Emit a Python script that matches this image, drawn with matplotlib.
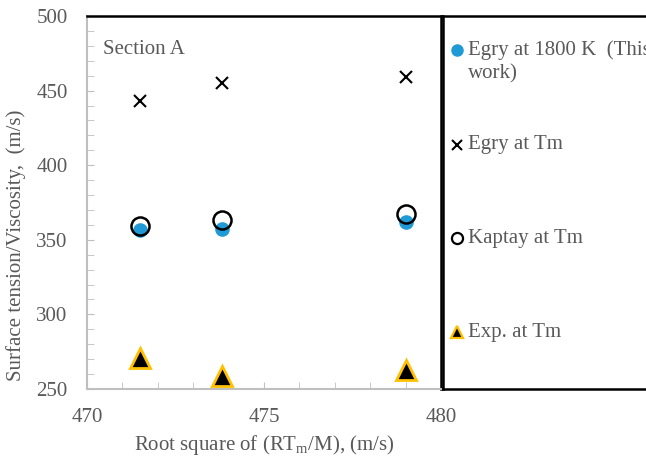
import matplotlib
matplotlib.use("Agg")
import matplotlib.pyplot as plt
from matplotlib.ticker import MultipleLocator

plt.rcParams['mathtext.fontset'] = 'custom'
plt.rcParams['mathtext.rm'] = 'Liberation Serif'
plt.rcParams['mathtext.it'] = 'Liberation Serif:italic'

x = [471.5, 473.8, 479.0]
egry_1800 = [356.5, 357.5, 362.0]
egry_tm = [443, 455, 459]
kaptay_tm = [359, 363, 367]
exp_tm = [271, 258.5, 263]

labels = ["Egry at 1800 K  (This", "Egry at Tm", "Kaptay at Tm", "Exp. at Tm"]
label_cont = "work)"

serif = ["Liberation Serif", "DejaVu Serif"]
gray_txt = "#595959"
spine_gray = "#bfbfbf"
blue = "#1f9ad6"
orange = "#ffc000"
FS = 15

W, H = 646, 459
fig = plt.figure(figsize=(W / 100, H / 100), dpi=100)

def rect(l, t, r, b):
    return [l / W, 1 - b / H, (r - l) / W, (b - t) / H]

ax = fig.add_axes(rect(87, 16, 441, 389))
ax.set_xlim(470, 480)
ax.set_ylim(250, 500)

ax.plot(x, egry_1800, 'o', color=blue, markersize=9.5, zorder=3)
ax.plot(x, egry_tm, 'x', color='black', markersize=9, mew=1.5, zorder=3)
ax.plot(x, kaptay_tm, 'o', mfc='none', mec='black', markersize=13, mew=1.8, zorder=4)
ax.plot(x, exp_tm, '^', mfc='black', mec=orange, markersize=15, mew=2, zorder=3)

ax.text(0.045, 0.91, "Section A", transform=ax.transAxes, fontsize=FS,
        family=serif, color=gray_txt, va='center', ha='left')

ax.xaxis.set_major_locator(MultipleLocator(5))
ax.xaxis.set_minor_locator(MultipleLocator(1))
ax.yaxis.set_major_locator(MultipleLocator(50))
ax.yaxis.set_minor_locator(MultipleLocator(10))
ax.tick_params(which='both', direction='in', color=spine_gray, labelcolor=gray_txt,
               labelsize=FS, top=False, right=False)
ax.tick_params(axis='x', which='major', length=5, pad=14)
ax.tick_params(axis='y', which='major', length=5, pad=14)
ax.tick_params(which='minor', length=5)
for lab in ax.get_xticklabels() + ax.get_yticklabels():
    lab.set_family(serif)

for s in ['left', 'bottom']:
    ax.spines[s].set_color(spine_gray)
    ax.spines[s].set_linewidth(1.5)
for s in ['top', 'right']:
    ax.spines[s].set_color('black')
    ax.spines[s].set_linewidth(1.8)

ax.set_xlabel("Root square of (RT$_\\mathrm{m}$/M), (m/s)", fontsize=FS,
              family=serif, color=gray_txt, labelpad=4)
ax.set_ylabel("Surface tension/Viscosity,  (m/s)", fontsize=FS,
              family=serif, color=gray_txt)
ax.yaxis.set_label_coords(-0.172, 0.386)

# legend panel
lax = fig.add_axes(rect(443, 16, 720, 389))
lax.set_xlim(443, 720)
lax.set_ylim(389, 16)
lax.set_xticks([])
lax.set_yticks([])
for s in lax.spines.values():
    s.set_color('black')
    s.set_linewidth(1.8)

ys = [50, 145, 238, 332]
styles = [
    dict(marker='o', color=blue, markersize=8, linestyle='none'),
    dict(marker='x', color='black', markersize=7, mew=1.5, linestyle='none'),
    dict(marker='o', mfc='none', mec='black', markersize=8, mew=1.6, linestyle='none'),
    dict(marker='^', mfc='black', mec=orange, markersize=8, mew=1.6, linestyle='none'),
]
for yy, lab, st in zip(ys, labels, styles):
    lax.plot([457], [yy], **st, clip_on=False)
    lax.text(468, yy, lab, fontsize=FS, family=serif, color=gray_txt,
             va='center', ha='left')
lax.text(468, ys[0] + 24, label_cont, fontsize=FS, family=serif, color=gray_txt,
         va='center', ha='left')

fig.savefig("out.png", dpi=100)
